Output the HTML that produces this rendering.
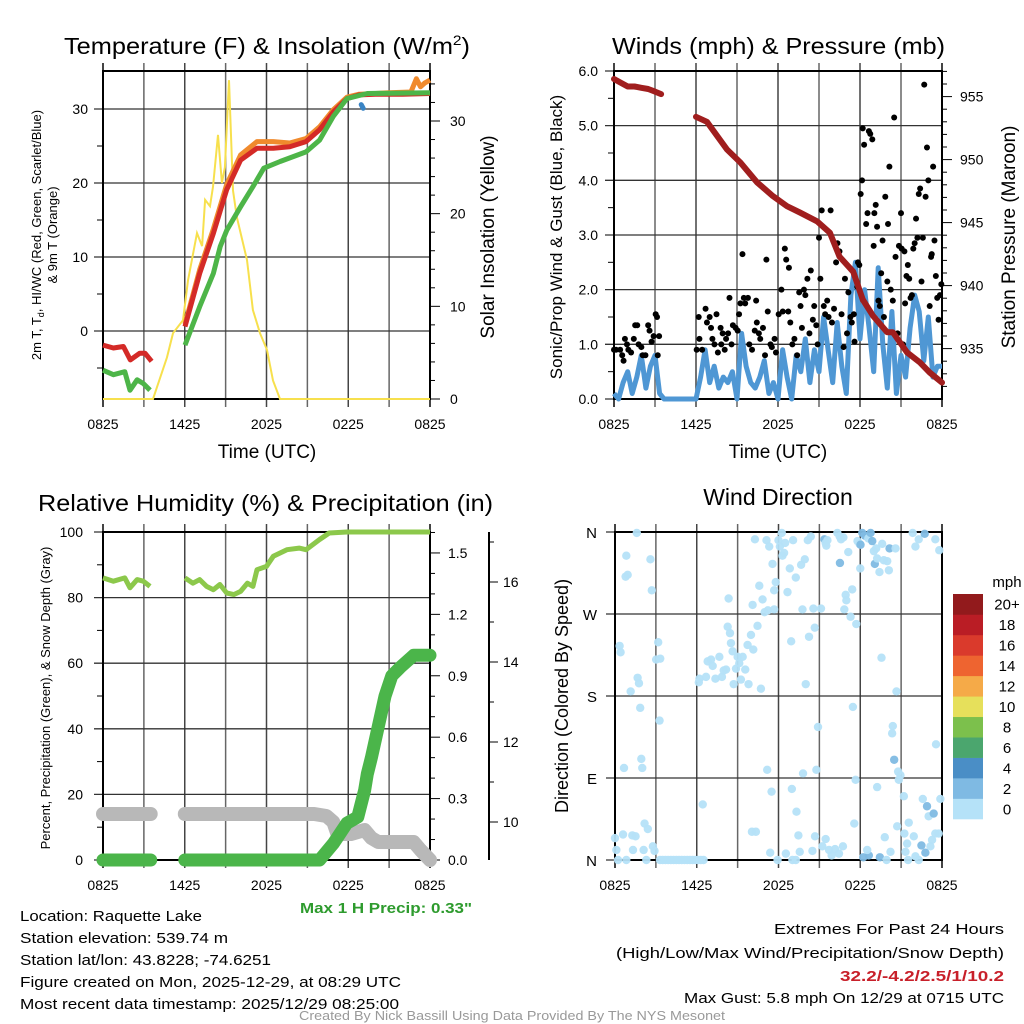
<!DOCTYPE html>
<html><head><meta charset="utf-8"><title>Mesonet Meteogram</title>
<style>
html,body{margin:0;padding:0;background:#fff;}
svg{display:block;font-family:"Liberation Sans",sans-serif;}
</style></head>
<body>
<svg id="chart" width="1024" height="1024" viewBox="0 0 1024 1024" xmlns="http://www.w3.org/2000/svg">
<rect width="1024" height="1024" fill="#fff"/>
<g id="layer"></g>
<!-- titles -->
<text x="64" y="54" font-size="23" textLength="406" lengthAdjust="spacingAndGlyphs">Temperature (F) &amp; Insolation (W/m<tspan font-size="14" dy="-9">2</tspan><tspan dy="9">)</tspan></text>
<text x="612" y="54" font-size="23" textLength="333" lengthAdjust="spacingAndGlyphs">Winds (mph) &amp; Pressure (mb)</text>
<text x="38" y="511" font-size="23" textLength="455" lengthAdjust="spacingAndGlyphs">Relative Humidity (%) &amp; Precipitation (in)</text>
<text x="778" y="505" font-size="23" text-anchor="middle">Wind Direction</text>
<text x="267" y="458" font-size="19" text-anchor="middle">Time (UTC)</text>
<text x="778" y="458" font-size="19" text-anchor="middle">Time (UTC)</text>
<text transform="translate(41,235) rotate(-90)" font-size="13" text-anchor="middle">2m T, T<tspan font-size="9" dy="3">d</tspan><tspan dy="-3">, HI/WC (Red, Green, Scarlet/Blue)</tspan></text>
<text transform="translate(57,235) rotate(-90)" font-size="13" text-anchor="middle">&amp; 9m T (Orange)</text>
<text transform="translate(494,237) rotate(-90)" font-size="19" text-anchor="middle">Solar Insolation (Yellow)</text>
<text transform="translate(562,237) rotate(-90)" font-size="17" text-anchor="middle">Sonic/Prop Wind &amp; Gust (Blue, Black)</text>
<text transform="translate(1015,237) rotate(-90)" font-size="19" text-anchor="middle">Station Pressure (Maroon)</text>
<text transform="translate(50,698) rotate(-90)" font-size="13" text-anchor="middle">Percent, Precipitation (Green), &amp; Snow Depth (Gray)</text>
<text transform="translate(568,696) rotate(-90)" font-size="18" text-anchor="middle">Direction (Colored By Speed)</text>
<text x="1007" y="587" font-size="15" text-anchor="middle">mph</text>
<!-- footer -->
<text x="300" y="913" font-size="15" font-weight="bold" fill="#2E9B2E" textLength="172" lengthAdjust="spacingAndGlyphs">Max 1 H Precip: 0.33"</text>
<g font-size="15">
<text x="20" y="921" textLength="182" lengthAdjust="spacingAndGlyphs">Location: Raquette Lake</text>
<text x="20" y="943" textLength="208" lengthAdjust="spacingAndGlyphs">Station elevation: 539.74 m</text>
<text x="20" y="965" textLength="251" lengthAdjust="spacingAndGlyphs">Station lat/lon: 43.8228; -74.6251</text>
<text x="20" y="987" textLength="381" lengthAdjust="spacingAndGlyphs">Figure created on Mon, 2025-12-29, at 08:29 UTC</text>
<text x="20" y="1009" textLength="379" lengthAdjust="spacingAndGlyphs">Most recent data timestamp: 2025/12/29 08:25:00</text>
</g>
<g font-size="15" text-anchor="end">
<text x="1004" y="934" textLength="230" lengthAdjust="spacingAndGlyphs">Extremes For Past 24 Hours</text>
<text x="1004" y="958" textLength="388" lengthAdjust="spacingAndGlyphs">(High/Low/Max Wind/Precipitation/Snow Depth)</text>
<text x="1004" y="981" fill="#C8202A" font-weight="bold" textLength="164" lengthAdjust="spacingAndGlyphs">32.2/-4.2/2.5/1/10.2</text>
<text x="1004" y="1003" textLength="320" lengthAdjust="spacingAndGlyphs">Max Gust: 5.8 mph On 12/29 at 0715 UTC</text>
</g>
<text x="512" y="1020" font-size="13" fill="#999" text-anchor="middle" textLength="426" lengthAdjust="spacingAndGlyphs">Created By Nick Bassill Using Data Provided By The NYS Mesonet</text>
</svg>
<script>
// ---------- DATA ----------
const timeLabels = ["0825","1425","2025","0225","0825"];
const tempT   = [0,0.76,1.5,2.0,2.7,3.08,3.57,null,6.02,7.1,8.1,9.08,10.1,11.3,12.5,13.7,14.9,15.9,16.9,17.9,18.8,20,22,24];
const tempRed = [-1.9,-2.3,-2.1,-3.9,-3.0,-3.0,-4.1,null,0.6,7.8,13.2,19.1,23.1,24.7,24.7,24.9,25.6,27.2,29.6,31.4,31.9,32.0,32.0,32.1];
const nineT   = [6.02,7.1,8.1,9.08,10.1,11.3,12.5,13.7,14.9,15.9,16.9,17.9,18.8,20,21,22.6,23.0,23.3,23.6,24];
const nineVal = [0.9,8.3,13.8,19.8,23.8,25.6,25.6,25.4,26.0,27.6,29.9,31.6,32.0,32.1,32.2,32.3,34.1,33.0,33.5,33.9];
const dewT    = [0,0.76,1.6,1.98,2.5,2.96,3.45,null,6.02,7.1,8.1,8.6,9.08,10.1,11.0,11.8,13.0,14.9,15.9,16.9,17.9,19.4,24];
const dewVal  = [-5.3,-5.9,-5.5,-8.0,-6.6,-7.1,-8.0,null,-1.9,3.3,7.8,11.4,13.6,16.8,19.5,22.0,22.9,24.2,25.8,29.0,31.4,32.1,32.2];
const wcT     = [18.95,19.1];
const wcVal   = [30.6,30.1];
const solT    = [0,3.67,4.7,5.14,5.87,6.24,6.9,7.27,7.49,7.85,8.07,8.44,8.73,8.95,9.25,9.54,9.83,10.57,11.0,11.52,12.04,12.48,12.99,24];
const solVal  = [0,0,4.5,7.1,8.5,12.8,17.9,16.5,21.5,20.8,22.9,28.5,23.3,25.0,34.4,22.5,19.6,15.0,9.6,7.1,5.3,2.0,0,0];

const presT   = [0,0.5,1,1.5,2,2.5,3.0,3.45,null,6.0,6.8,8.27,9.22,10.46,11.63,12.66,13.6,14.85,15.8,16.5,17.5,18.2,18.95,19.98,20.4,21.44,22.39,23.1,24];
const presVal = [956.4,956.1,955.8,955.8,955.7,955.6,955.4,955.2,null,953.4,953.0,950.8,949.8,948.2,947.1,946.3,945.8,945.1,944.2,942.3,941.1,938.9,937.6,936.3,936.3,934.7,933.9,933.1,932.3];
const windSpd = [0.1,0.0,0.3, 0.5,0.1,0.4, 0.8,0.2,0.6, 0.8,0.1,0.0, 0,0,0, 0,0,0,
  0.0,0.4,0.9, 0.3,0.6,0.2, 0.4,0.3,0.5, 0.0,1.2,0.6, 0.3,0.2,0.4, 0.7,0.1,0.3,
  0.0,0.9,0.4, 0.0,0.8,0.5, 1.1,0.3,0.9, 0.5,1.5,0.9, 0.3,1.4,0.6, 0.1,1.9,2.5,
  1.1,2.0,1.3, 0.5,2.4,1.0, 0.2,1.6,0.1, 0.8,0.4,1.3, 1.9,1.6,0.7, 1.5,0.4,0.6, 0.6];
const gustT = [0,0.15,0.45,0.6,0.7,0.8,0.95,1.05,1.25,1.45,1.55,1.7,1.8,2.0,2.1,2.3,2.5,2.6,2.75,2.9,3.05,3.15,3.2,3.3,
 6.05,6.2,6.25,6.45,6.7,6.8,7.0,7.1,7.2,7.35,7.5,7.6,7.8,7.85,7.95,8.1,8.2,8.35,8.45,8.6,8.7,8.9,9.05,9.15,9.25,9.4,9.5,9.6,9.8,9.9,10.1,10.3,10.4,10.45,10.6,10.7,10.9,11.05,11.15,11.25,11.45,11.55,11.75,11.85,12.05,12.25,12.35,12.5,12.6,12.75,12.8,12.9,13.05,13.2,13.4,13.55,13.65,13.75,13.9,14.0,14.15,14.3,14.4,14.55,14.65,14.8,14.9,15.0,15.1,15.2,15.35,15.45,15.6,15.7,15.85,15.95,16.1,16.25,16.35,16.5,16.65,16.8,16.9,17.05,17.15,17.3,17.4,17.55,17.6,17.8,17.85,17.95,18.05,18.15,18.2,18.3,18.45,18.55,18.65,18.75,18.9,19.0,19.05,19.15,19.25,19.35,19.45,19.55,19.65,19.75,19.85,20.0,20.05,20.15,20.25,20.4,20.5,20.6,20.75,20.85,21.0,21.05,21.15,21.25,21.3,21.4,21.5,21.6,21.7,21.8,21.9,22.0,22.1,22.2,22.3,22.4,22.5,22.6,22.7,22.8,22.9,23.0,23.1,23.2,23.25,23.35,23.45,23.55,23.65,23.75,23.85,23.95];
const gustVal = [0.9,0.9,0.9,0.8,0.7,1.1,1.0,0.9,0.85,1.1,1.35,1.35,1.0,0.95,0.8,0.8,1.35,1.25,1.05,1.15,1.55,1.5,0.8,1.15,
 0.9,1.5,1.1,0.9,1.65,1.4,1.5,1.3,1.1,1.0,1.55,0.85,1.3,1.0,1.2,0.9,1.1,1.2,1.85,1.0,1.35,1.3,1.25,1.55,1.75,2.65,1.85,1.75,1.85,1.0,0.9,1.25,1.8,1.4,1.2,1.1,1.3,0.8,2.55,1.6,1.0,0.95,1.1,0.85,1.55,2.0,1.6,2.75,2.55,1.6,2.4,1.4,1.0,1.1,0.8,1.95,1.7,1.3,2.0,1.9,2.2,1.2,2.35,1.45,1.7,1.35,1.0,2.95,2.2,3.45,1.7,1.55,1.8,1.5,3.45,1.4,1.65,2.5,2.85,2.7,1.55,0.95,2.2,1.2,1.95,1.5,1.4,1.55,1.05,2.05,2.5,2.45,3.75,4.0,4.95,4.65,3.2,3.4,4.9,4.85,4.75,2.8,3.4,3.55,3.15,1.8,1.7,2.3,2.9,1.5,3.7,2.15,3.2,4.25,2.0,1.8,5.15,2.6,1.2,2.8,3.4,2.75,1.0,2.7,1.75,2.25,2.45,2.2,1.85,1.9,2.75,2.85,3.3,2.95,3.75,3.85,2.15,2.95,5.75,3.7,4.6,4.0,1.7,2.6,2.65,4.25,2.9,2.25,1.85,1.45,1.9,2.1];

const rhT   = [0,0.76,1.6,1.98,2.5,2.96,3.45,null,6.02,6.6,7.1,7.6,8.1,8.58,9.08,9.6,10.1,10.6,11.0,11.3,12.0,12.5,13.5,14.4,14.9,15.9,16.6,17.9,24];
const rhVal = [86,85,86,83,85.5,85,83.4,null,86,84.4,85.5,83.4,82.4,84,81.4,80.9,81.9,84.4,83.4,88.5,89.5,92.6,94.6,95.1,94.6,97.7,99.7,100,100];
const prcT   = [0,3.5,null,6.0,15.9,16.9,17.9,18.7,19.2,19.4,19.7,20.2,20.7,21.2,21.8,22.8,24];
const prcVal = [0,0,null,0,0,0.08,0.18,0.21,0.34,0.42,0.5,0.65,0.8,0.9,0.94,1.0,1.0];
const snowT   = [0,3.5,null,6.0,15.5,16.4,16.9,17.2,18.2,19.2,19.7,20.2,22.8,23.3,24];
const snowVal = [10.2,10.2,null,10.2,10.2,10.15,10.0,9.7,9.7,9.8,9.6,9.5,9.5,9.3,9.05];

const dirT = [1.6,0.83,0.78,0.93,2.6,2.7,0.34,0.41,1.66,1.76,1.15,1.85,3.17,3.02,3.32,3.27,1.93,2.0,0.66,0,0.1,0.59,1.27,1.51,1.32,2.17,2.41,2.1,2.78,2.9,0.22,0.83,2.3,
 3.3,3.5,3.7,3.9,4.1,4.3,4.5,4.7,4.9,5.1,5.3,5.5,5.7,5.9,6.1,6.3,6.5,6.44,
 6.2,6.15,6.68,6.8,7.05,7.17,7.37,7.66,7.85,7.98,8.15,8.27,8.34,8.44,8.51,8.63,8.71,8.88,9.0,9.12,9.24,9.37,9.56,9.73,9.8,9.98,10.15,10.1,10.27,10.46,10.59,10.71,10.83,10.98,11.12,11.22,11.32,11.56,11.68,11.68,11.8,12.0,12.1,12.24,12.29,12.41,12.49,12.66,12.83,12.93,13.07,13.27,13.66,13.76,13.93,14.0,14.15,14.24,14.37,14.56,14.66,15.12,15.37,15.46,15.51,15.59,16.32,16.49,16.51,16.59,16.76,16.83,16.93,16.98,17.12,17.29,17.41,17.71,17.8,17.95,18.0,18.02,18.15,18.34,18.59,18.76,18.88,19.0,19.17,19.07,19.24,19.41,19.61,19.73,19.98,20.1,20.15,20.59,19.56,20.66,21.85,22.29,22.05,22.73,23.51,23.8,
 10.05,10.34,11.39,11.93,12.54,13.02,13.27,13.56,13.46,13.32,12.98,11.49,11.17,13.8,14.78,14.9,14.49,14.68,15.22,15.46,15.71,15.9,16.15,16.44,16.73,17.46,17.66,17.56,18.22,18.63,18.51,19.24,19.44,19.8,19.93,20.22,20.39,20.34,20.49,20.78,20.95,20.83,21.2,20.71,21.24,21.44,21.56,21.32,21.51,21.93,22.05,22.29,22.49,22.59,22.78,22.9,23.02,23.39,23.51,23.76,23.56,23.88,23.27,23.15];
const dirDeg = [359,334,311,313,330,296,235,228,200,194,185,167,239,220,221,153,111,101,101,24,11,28,27,26,11,40,34,11,15,10,0,0,0,
 0,0,0,0,0,0,0,0,0,0,0,0,0,0,0,0,0,61,
 199,195,201,218,220,213,199,223,201,208,209,256,287,249,238,229,193,210,223,216,198,223,209,236,193,247,231,280,352,257,301,188,286,272,351,274,344,325,275,296,305,351,344,359,334,337,348,294,320,240,351,310,324,275,330,193,351,245,355,276,255,276,352,348,345,351,359,355,326,352,354,275,291,285,338,267,297,259,350,347,320,346,359,356,353,359,350,339,342,325,331,316,347,329,328,318,342,342,222,185,359,352,344,358,352,340,
 31,31,8,0,7,0,0,9,27,53,78,75,99,95,99,146,10,26,15,23,11,5,12,7,15,168,88,40,3,5,11,80,3,25,0,9,147,139,110,97,93,88,70,37,29,18,41,9,0,26,4,0,16,67,8,59,48,51,29,29,127,67,22,15];
const dirSpd = [1,1,1,1,1,1,1,1,1,1, 1,1,1,1,1,1,1,1,1,1, 1,1,1,1,1,1,1,1,1,1, 0,0,0,
 0,0,0,0,0,0,0,0,0,0,0,0,0,0,0,0,0,1,
 1,1,1,1,1,1,1,1,1,1, 1,1,1,1,1,1,1,1,1,1, 1,1,1,1,1,1,1,1,1,1, 1,1,1,1,1,1,1,1,1,1, 1,1,1,1,1,1,1,1,1,1, 1,1,1,1,1,1,1,1,1,1,
 1,1,3,1,1,1,1,1,3,1, 1,1,1,1,1,1,1,1,1,1, 1,3,3,3,1,3,3,1,1,3, 1,1,1,1,1,1,3,1,1,1, 1,1,1,3,1,1,
 1,1,1,1,1,1,1,1,1,1, 1,1,1,1,1,1,1,1,1,1, 1,1,1,1,1,1,1,1,3,3, 1,1,3,1,1,1,1,1,3,1, 1,1,1,1,1,1,1,1,1,1, 1,1,3,1,3,3,1,3,1,1, 1,1,1,1];
const cbLabels = ["0","2","4","6","8","10","12","14","16","18","20+"];
const cbColors = ["#B5E2F8","#7FBAE3","#4A8EC6","#4BA66E","#7CC04C","#E6E05B","#F5AA48","#EE6430","#DA3A2C","#BA1D25","#921A1C"];

// ---------- HELPERS ----------
const NS="http://www.w3.org/2000/svg";
const L=document.getElementById('layer');
function mk(tag,attrs,parent){const e=document.createElementNS(NS,tag);for(const k in attrs)e.setAttribute(k,attrs[k]);(parent||L).appendChild(e);return e;}
function txt(s,attrs,parent){const e=mk('text',attrs,parent);e.textContent=s;return e;}
function pathD(ts,vs,fx,fy){let d="",pen=false;for(let i=0;i<ts.length;i++){if(ts[i]===null||vs[i]===null){pen=false;continue;}d+=(pen?"L":"M")+fx(ts[i]).toFixed(1)+","+fy(vs[i]).toFixed(1);pen=true;}return d;}

function frame(name,x0,x1,y0,y1,hTicks,hy){
  const g=mk('g',{});
  
  
  for(let i=0;i<=8;i++){const x=x0+(x1-x0)*i/8;
    mk('line',{x1:x,x2:x,y1:y0-8,y2:y1+8,stroke:i%2?'#666':'#444','stroke-width':(i==0||i==8)?2:1.5},g);}
  hTicks.forEach(v=>{const y=hy(v);mk('line',{x1:x0-9,x2:x1,y1:y,y2:y,stroke:'#333','stroke-width':1.3},g);});
  mk('rect',{x:x0,y:y0,width:x1-x0,height:y1-y0,fill:'none',stroke:'#000','stroke-width':2},g);
  const lg=mk('g',{'font-size':14,'text-anchor':'middle'});
  
  
  timeLabels.forEach((s,i)=>txt(s,{x:x0+(x1-x0)*i/4,y:y1+30},lg));
}

// ---------- PANEL 1 ----------
const p1x=t=>103+t*327/24, yT=v=>331-v*7.4, yS=v=>399-v*9.267;
frame('temperature',103,430,71,399,[0,10,20,30],yT);
{const g=mk('g',{'font-size':14,'text-anchor':'end'});
 [0,10,20,30].forEach(v=>txt(String(v),{x:88,y:yT(v)+5},g));
 [-5,5,15,25].forEach(v=>mk('line',{x1:97,x2:103,y1:yT(v),y2:yT(v),stroke:'#000'},g));
 const r=mk('g',{'font-size':14,'text-anchor':'start'});
 for(let v=0;v<=34;v+=2){const y=yS(v);mk('line',{x1:430,x2:v%10?435:440,y1:y,y2:y,stroke:'#000'},r);}
 [0,10,20,30].forEach(v=>txt(String(v),{x:450,y:yS(v)+5},r));}
let e;
e=mk('path',{d:pathD(solT,solVal,p1x,yS),fill:'none',stroke:'#F7E04D','stroke-width':2});

e=mk('path',{d:pathD(nineT,nineVal,p1x,yT),fill:'none',stroke:'#F08A2D','stroke-width':5,'stroke-linejoin':'round'});

e=mk('path',{d:pathD(tempT,tempRed,p1x,yT),fill:'none',stroke:'#D42A27','stroke-width':5,'stroke-linejoin':'round'});

e=mk('path',{d:pathD(dewT,dewVal,p1x,yT),fill:'none',stroke:'#4DB548','stroke-width':5,'stroke-linejoin':'round'});

e=mk('path',{d:pathD(wcT,wcVal,p1x,yT),fill:'none',stroke:'#3A84C4','stroke-width':5,'stroke-linecap':'round'});


// ---------- PANEL 2 ----------
const p2x=t=>614+t*328/24, yW=v=>399-v*54.67, yP=p=>399-(p-931.0)*12.6;
frame('wind',614,942,71,399,[0,1,2,3,4,5,6],yW);
{const g=mk('g',{'font-size':14,'text-anchor':'end'});
 [0,1,2,3,4,5,6].forEach(v=>txt(v.toFixed(1),{x:598,y:yW(v)+5},g));
 [0.5,1.5,2.5,3.5,4.5,5.5].forEach(v=>mk('line',{x1:608,x2:614,y1:yW(v),y2:yW(v),stroke:'#000'},g));
 const r=mk('g',{'font-size':14});
 for(let p=932;p<=957;p++){const y=yP(p);mk('line',{x1:942,x2:p%5?947:952,y1:y,y2:y,stroke:'#000'},r);}
 [935,940,945,950,955].forEach(p=>txt(String(p),{x:960,y:yP(p)+5},r));}
const windT=windSpd.map((v,i)=>i/3);
e=mk('path',{d:pathD(windT,windSpd,p2x,yW),fill:'none',stroke:'#4F97D4','stroke-width':5,'stroke-linejoin':'round'});

{const g=mk('g',{fill:'#000'});
 gustT.forEach((t,i)=>{const c=mk('circle',{cx:p2x(t),cy:yW(gustVal[i]),r:3},g);
  
  });}
e=mk('path',{d:pathD(presT,presVal,p2x,yP),fill:'none',stroke:'#A01E1E','stroke-width':6,'stroke-linejoin':'round','stroke-linecap':'round'});


// ---------- PANEL 3 ----------
const yR=v=>860-v*3.28, yPr=v=>860-v*204.7, ySn=v=>860-(v-9.05)*40;
frame('humidity',103,430,532,860,[0,20,40,60,80,100],yR);
{const g=mk('g',{'font-size':14,'text-anchor':'end'});
 [0,20,40,60,80,100].forEach(v=>txt(String(v),{x:83,y:yR(v)+5},g));
 [10,30,50,70,90].forEach(v=>mk('line',{x1:97,x2:103,y1:yR(v),y2:yR(v),stroke:'#000'},g));
 const r=mk('g',{'font-size':14});
 for(let i=0;i<=16;i++){const y=yPr(i/10);mk('line',{x1:430,x2:i%3?435:440,y1:y,y2:y,stroke:'#000'},r);}
 [0,0.3,0.6,0.9,1.2,1.5].forEach(v=>txt(v.toFixed(1),{x:448,y:yPr(v)+5},r));
 const s=mk('g',{'font-size':14});
 mk('line',{x1:489,x2:489,y1:532,y2:860,stroke:'#000','stroke-width':2},s);
 for(let v=10;v<=17;v++){const y=ySn(v);mk('line',{x1:489,x2:v%2?494:498,y1:y,y2:y,stroke:'#000'},s);}
 [10,12,14,16].forEach(v=>txt(String(v),{x:503,y:ySn(v)+5},s));}
e=mk('path',{d:pathD(snowT,snowVal,p1x,ySn),fill:'none',stroke:'#B8B8B8','stroke-width':14,'stroke-linecap':'round','stroke-linejoin':'round'});

e=mk('path',{d:pathD(prcT,prcVal,p1x,yPr),fill:'none',stroke:'#4BB54A','stroke-width':13,'stroke-linecap':'round','stroke-linejoin':'round'});

e=mk('path',{d:pathD(rhT,rhVal,p1x,yR),fill:'none',stroke:'#8CC84B','stroke-width':5,'stroke-linejoin':'round'});


// ---------- PANEL 4 ----------
const p4x=t=>615+t*327/24, yD=d=>860-d*328/360;
frame('direction',615,942,532,860,[0,90,180,270,360],yD);
{const g=mk('g',{'font-size':15,'text-anchor':'end'});
 ["N","E","S","W","N"].forEach((s,i)=>txt(s,{x:597,y:yD(i*90)+6},g));}
{const g=mk('g',{});
 dirT.forEach((t,i)=>{const sp=(dirSpd[i]===undefined)?1:dirSpd[i];
  const c=mk('circle',{cx:p4x(t),cy:yD(dirDeg[i]),r:4.2,fill:cbColors[Math.min(10,Math.floor(sp/2))],opacity:0.95},g);
  
  });}
{const g=mk('g',{'font-size':15,'text-anchor':'middle'});
 const bh=225/11;
 cbColors.forEach((c,i)=>{const y=819-(i+1)*bh;mk('rect',{x:953,y:y,width:30,height:bh+0.3,fill:c},g);
  txt(cbLabels[i],{x:1007,y:y+bh/2+5.5},g);});}
</script>
</body></html>
